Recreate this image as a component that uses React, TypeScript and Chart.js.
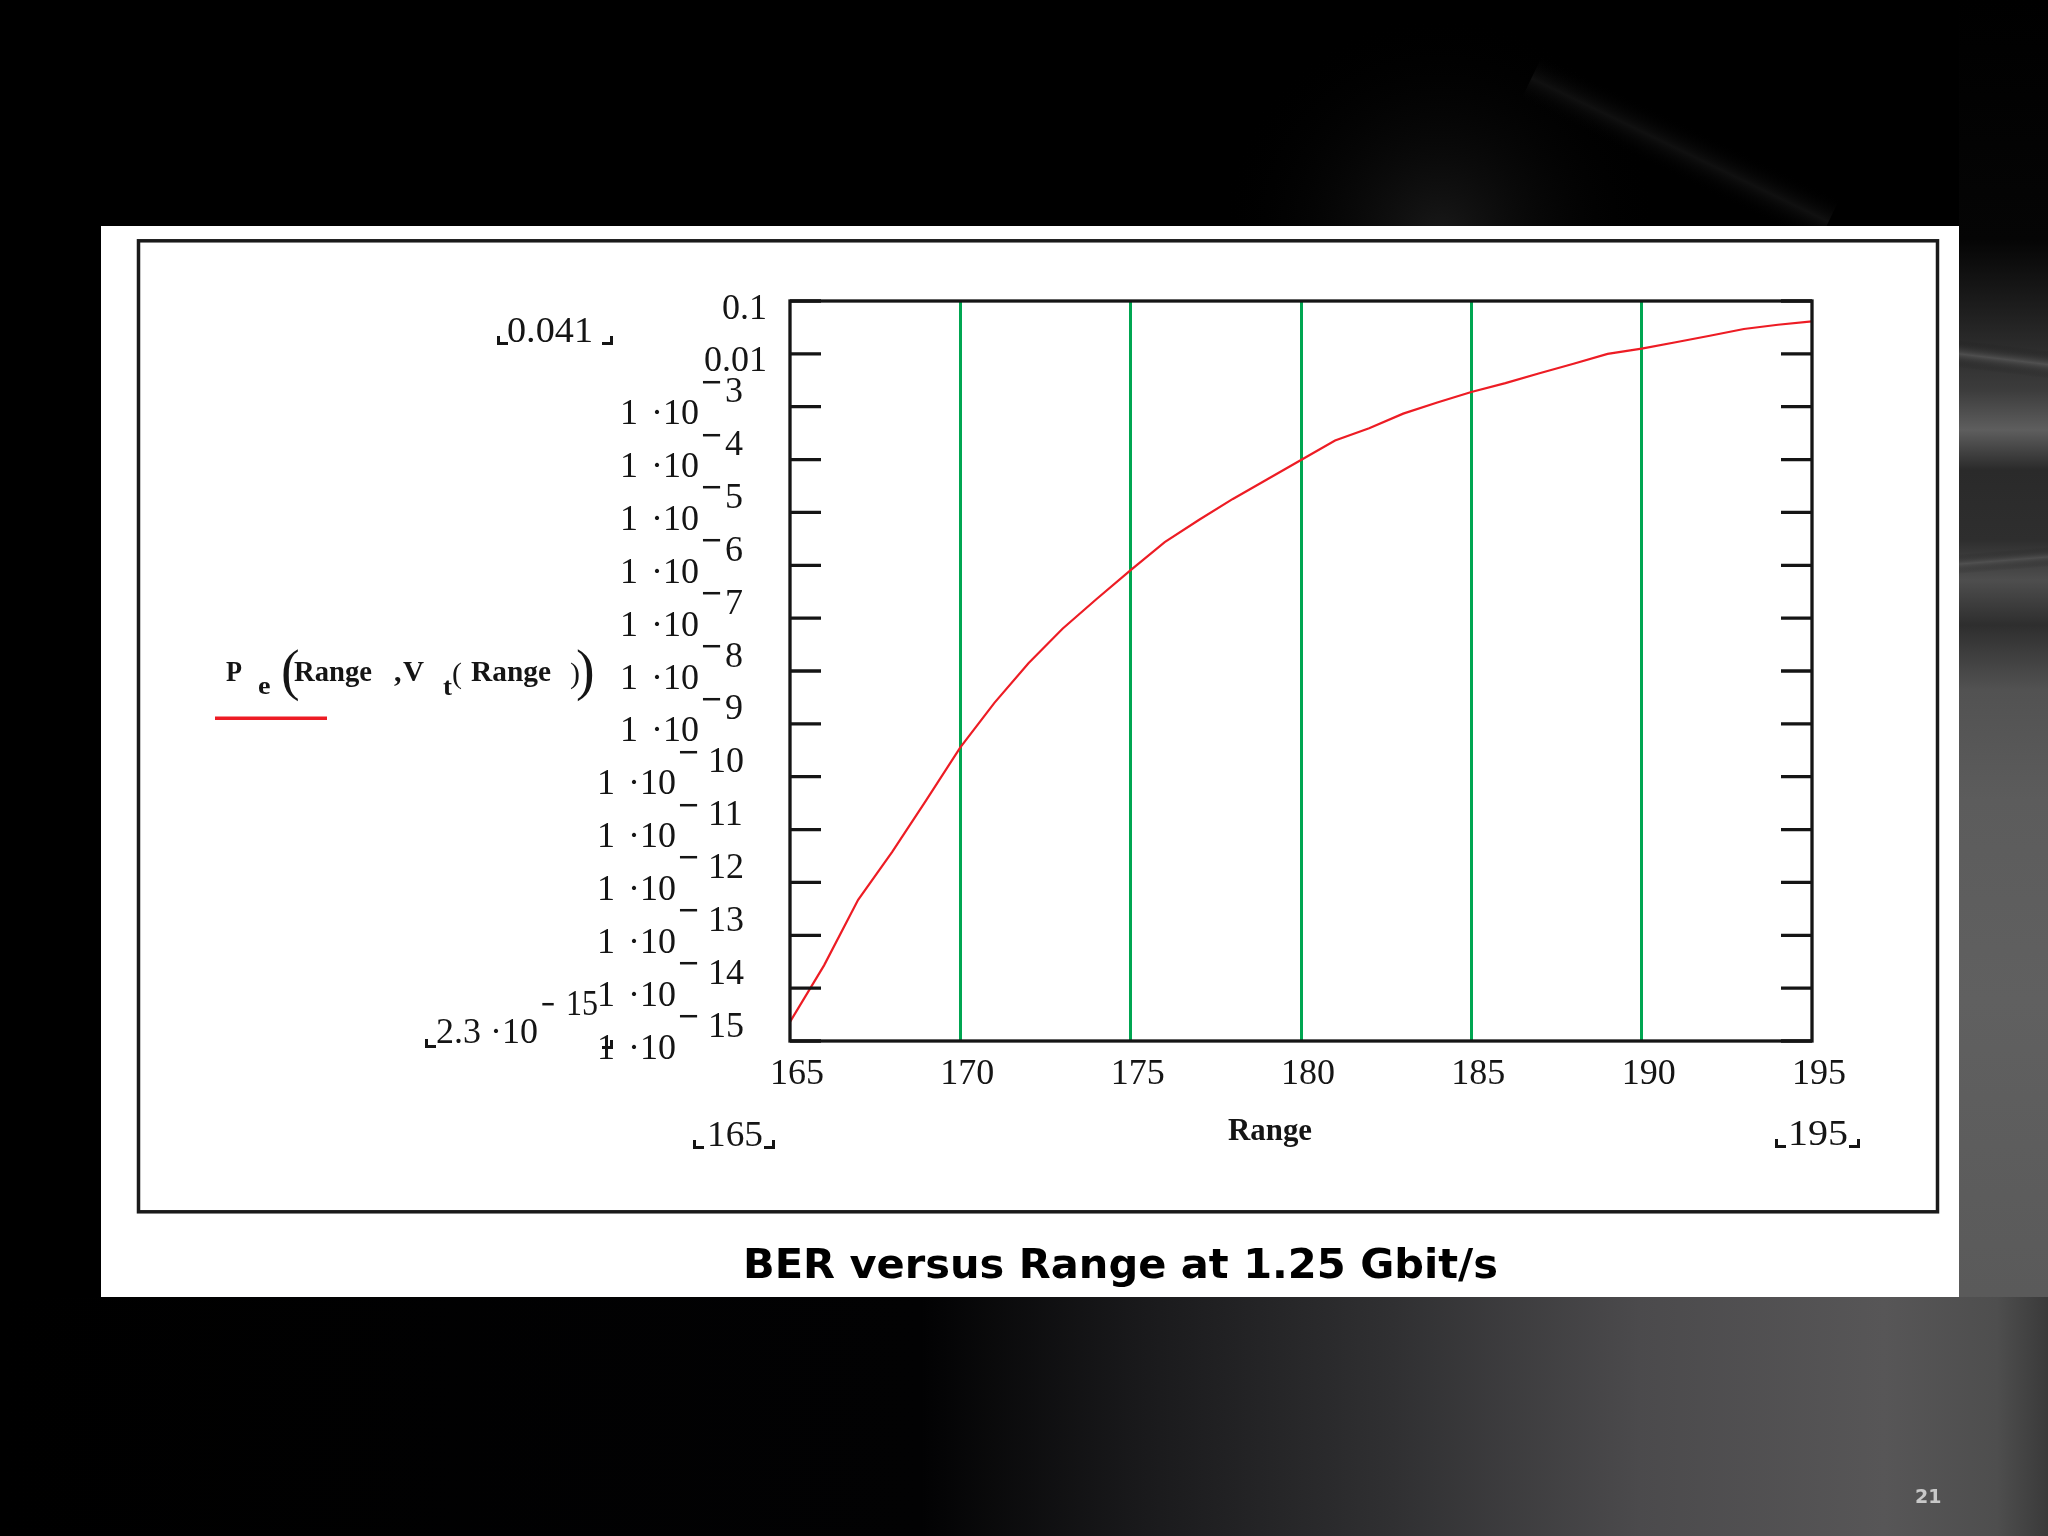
import React, { useEffect, useRef } from "react";
import { Chart, registerables } from "chart.js";

Chart.register(...registerables);

// ---------------- data ----------------
const rangeValues = [
  165, 166, 167, 168, 169, 170, 171, 172, 173, 174, 175, 176, 177, 178, 179, 180,
  181, 182, 183, 184, 185, 186, 187, 188, 189, 190, 191, 192, 193, 194, 195,
];
const berValues = [
  2.3e-15, 2.7e-14, 4.7e-13, 3.8e-12, 3.6e-11, 3.6e-10, 2.5e-9, 1.4e-8, 6.3e-8, 2.3e-7,
  8.1e-7, 2.75e-6, 7.2e-6, 1.8e-5, 4.2e-5, 9.8e-5, 2.3e-4, 3.9e-4, 7.4e-4, 1.2e-3,
  1.9e-3, 2.8e-3, 4.3e-3, 6.5e-3, 1.0e-2, 1.26e-2, 1.66e-2, 2.2e-2, 2.95e-2, 3.55e-2,
  4.1e-2,
];
const xTickValues = [165, 170, 175, 180, 185, 190, 195];
const xTickLabels = ["165", "170", "175", "180", "185", "190", "195"];
const yTickValues = [
  1e-1, 1e-2, 1e-3, 1e-4, 1e-5, 1e-6, 1e-7, 1e-8, 1e-9, 1e-10, 1e-11, 1e-12, 1e-13, 1e-14, 1e-15,
];
const yTickMantissa = ["0.1", "0.01", "1", "1", "1", "1", "1", "1", "1", "1", "1", "1", "1", "1", "1"];
const yTickExponent = ["", "", "3", "4", "5", "6", "7", "8", "9", "10", "11", "12", "13", "14", "15"];
const xAxisTitle = "Range";
const xLimitLow = "165";
const xLimitHigh = "195";
const yLimitHigh = "0.041";
const yLimitLowMantissa = "2.3 ·10";
const yLimitLowExponent = "15";
const chartTitle = "BER versus Range at 1.25 Gbit/s";
const pageNumber = "21";

// ---------------- styles ----------------
const SERIF = '"Liberation Serif", "Times New Roman", serif';
const SANS = '"DejaVu Sans", Verdana, sans-serif';
const GREEN = "rgb(0,166,81)";
const RED = "rgb(237,28,36)";
const INK = "#151515";

function fitText(ctx: CanvasRenderingContext2D, text: string, x: number, y: number, width: number, font: string) {
  ctx.save();
  ctx.font = font;
  ctx.textAlign = "left";
  ctx.textBaseline = "alphabetic";
  const w = ctx.measureText(text).width;
  ctx.translate(x, y);
  ctx.scale(width / w, 1);
  ctx.fillText(text, 0, 0);
  ctx.restore();
}

function cornerL(ctx: CanvasRenderingContext2D, x: number, bottom: number) {
  ctx.fillRect(x, bottom - 9, 3, 9);
  ctx.fillRect(x, bottom - 3, 11, 3);
}
function cornerR(ctx: CanvasRenderingContext2D, right: number, bottom: number) {
  ctx.fillRect(right - 3, bottom - 9, 3, 9);
  ctx.fillRect(right - 11, bottom - 3, 11, 3);
}

function streak(ctx: CanvasRenderingContext2D, cx: number, cy: number, len: number, thick: number, angle: number, color: string) {
  ctx.save();
  ctx.translate(cx, cy);
  ctx.rotate(angle);
  const g = ctx.createLinearGradient(0, -thick, 0, thick);
  g.addColorStop(0, "rgba(0,0,0,0)");
  g.addColorStop(0.5, color);
  g.addColorStop(1, "rgba(0,0,0,0)");
  ctx.fillStyle = g;
  ctx.fillRect(-len / 2, -thick, len, thick * 2);
  ctx.restore();
}

const backgroundPlugin = {
  id: "slideBackground",
  beforeDraw(chart: any) {
    const ctx: CanvasRenderingContext2D = chart.ctx;
    const W = chart.width;
    const H = chart.height;
    ctx.save();
    ctx.fillStyle = "#000";
    ctx.fillRect(0, 0, W, H);

    // faint glow above the panel, right side
    const rg = ctx.createRadialGradient(1440, 235, 10, 1440, 235, 220);
    rg.addColorStop(0, "rgba(30,30,30,0.75)");
    rg.addColorStop(1, "rgba(0,0,0,0)");
    ctx.fillStyle = rg;
    ctx.fillRect(1150, 0, 700, 226);
    streak(ctx, 1680, 150, 330, 26, 0.45, "rgba(20,20,20,0.8)");

    // right strip
    const vg = ctx.createLinearGradient(0, 0, 0, H);
    vg.addColorStop(0, "#000");
    vg.addColorStop(240 / H, "#050505");
    vg.addColorStop(310 / H, "#1e1e1e");
    vg.addColorStop(390 / H, "#3c3c3c");
    vg.addColorStop(430 / H, "#5e5e5e");
    vg.addColorStop(470 / H, "#2a2a2a");
    vg.addColorStop(540 / H, "#2e2e2e");
    vg.addColorStop(580 / H, "#4e4e4e");
    vg.addColorStop(625 / H, "#2e2e2e");
    vg.addColorStop(690 / H, "#525252");
    vg.addColorStop(800 / H, "#5c5c5c");
    vg.addColorStop(1000 / H, "#606060");
    vg.addColorStop(1, "#555");
    ctx.fillStyle = vg;
    ctx.fillRect(1959, 0, W - 1959, H);
    streak(ctx, 2010, 360, 200, 14, 0.12, "rgba(110,110,110,0.5)");
    streak(ctx, 2010, 560, 200, 10, -0.08, "rgba(100,100,100,0.45)");

    // bottom band
    const hg = ctx.createLinearGradient(0, 0, W, 0);
    hg.addColorStop(0, "#000");
    hg.addColorStop(0.45, "#020203");
    hg.addColorStop(0.55, "#18181a");
    hg.addColorStop(0.68, "#303032");
    hg.addColorStop(0.8, "#4b4a4c");
    hg.addColorStop(0.92, "#575657");
    hg.addColorStop(0.975, "#4e4e4e");
    hg.addColorStop(1, "#3a3a3a");
    ctx.fillStyle = hg;
    ctx.fillRect(0, 1297, W, H - 1297);

    // white panel
    ctx.fillStyle = "#ffffff";
    ctx.fillRect(101, 226, 1858, 1071);
    // Mathcad region border
    ctx.strokeStyle = "#1a1a1a";
    ctx.lineWidth = 3.5;
    ctx.strokeRect(138.5, 240.8, 1799, 971);
    ctx.restore();
  },
  afterDatasetsDraw(chart: any) {
    const ctx: CanvasRenderingContext2D = chart.ctx;
    const area = chart.chartArea;
    const yScale = chart.scales.y;
    ctx.save();
    ctx.strokeStyle = INK;
    ctx.lineWidth = 3.3;
    yScale.ticks.forEach((t: any) => {
      const py = yScale.getPixelForValue(t.value);
      ctx.beginPath();
      ctx.moveTo(area.left, py);
      ctx.lineTo(area.left + 31, py);
      ctx.moveTo(area.right - 31, py);
      ctx.lineTo(area.right, py);
      ctx.stroke();
    });
    ctx.strokeRect(area.left, area.top, area.right - area.left, area.bottom - area.top);
    ctx.restore();
  },
  afterDraw(chart: any) {
    const ctx: CanvasRenderingContext2D = chart.ctx;
    const xScale = chart.scales.x;
    const yScale = chart.scales.y;
    ctx.save();
    ctx.fillStyle = INK;
    ctx.textBaseline = "alphabetic";

    // y tick labels
    yTickValues.forEach((v, i) => {
      const py = yScale.getPixelForValue(v);
      const exp = yTickExponent[i];
      if (!exp) {
        ctx.font = `36px ${SERIF}`;
        ctx.textAlign = "right";
        ctx.fillText(yTickMantissa[i], 767, py + 17.5);
        return;
      }
      const two = exp.length > 1;
      const digitsLeft = two ? 708 : 725;
      const minusLeft = two ? 678 : 701;
      ctx.textAlign = "left";
      ctx.font = `36px ${SERIF}`;
      ctx.fillText(exp, digitsLeft, py - 4.5);
      fitText(ctx, "\u2212", minusLeft, py - 13, 21, `bold 36px ${SERIF}`);
      ctx.font = `36px ${SERIF}`;
      ctx.textAlign = "right";
      const midRight = minusLeft - 2;
      ctx.fillText("\u00B710", midRight, py + 17.5);
      const midW = ctx.measureText("\u00B710").width;
      ctx.fillText(yTickMantissa[i], midRight - midW - 13, py + 17.5);
    });

    // x tick labels
    ctx.font = `36px ${SERIF}`;
    ctx.textAlign = "center";
    xTickValues.forEach((v, i) => {
      const px = xScale.getPixelForValue(v);
      ctx.fillText(xTickLabels[i], px + 7, 1084);
    });

    // axis limit markers
    fitText(ctx, yLimitHigh, 507, 341.7, 86, `36px ${SERIF}`);
    cornerL(ctx, 497, 345);
    cornerR(ctx, 613, 345);

    fitText(ctx, yLimitLowMantissa, 436, 1043, 102, `36px ${SERIF}`);
    fitText(ctx, "\u2212", 541, 1015.5, 14, `bold 36px ${SERIF}`);
    fitText(ctx, yLimitLowExponent, 566, 1015, 32, `36px ${SERIF}`);
    cornerL(ctx, 425, 1048);
    cornerR(ctx, 613, 1049);

    fitText(ctx, xLimitLow, 707, 1146, 56, `36px ${SERIF}`);
    cornerL(ctx, 693, 1149);
    cornerR(ctx, 775, 1149);
    fitText(ctx, xLimitHigh, 1788, 1145, 60, `36px ${SERIF}`);
    cornerL(ctx, 1775, 1148);
    cornerR(ctx, 1860, 1148);

    // x axis title
    fitText(ctx, xAxisTitle, 1228, 1140, 84, `bold 31px ${SERIF}`);

    // series label
    const B30 = `bold 30px ${SERIF}`;
    fitText(ctx, "P", 226, 680.7, 16, B30);
    fitText(ctx, "e", 258, 694, 12.5, `bold 26px ${SERIF}`);
    ctx.textAlign = "left";
    ctx.font = `56px ${SERIF}`;
    ctx.fillText("(", 281, 689);
    fitText(ctx, "Range", 294, 680.7, 78, B30);
    ctx.font = B30;
    ctx.fillText(",", 394, 680.7);
    fitText(ctx, "V", 403, 680.7, 21, B30);
    fitText(ctx, "t", 443, 695, 9, `bold 26px ${SERIF}`);
    ctx.font = `30px ${SERIF}`;
    ctx.fillText("(", 452, 683);
    fitText(ctx, "Range", 471, 680.7, 80, B30);
    ctx.font = `30px ${SERIF}`;
    ctx.fillText(")", 570, 683);
    ctx.font = `56px ${SERIF}`;
    ctx.fillText(")", 576, 689);
    ctx.fillStyle = RED;
    ctx.fillRect(215, 716.5, 112, 3.5);

    // caption
    ctx.fillStyle = "#000";
    fitText(ctx, chartTitle, 743, 1278, 755, `bold 41px ${SANS}`);

    // page number
    ctx.fillStyle = "#c8c8c8";
    ctx.font = `bold 19px ${SANS}`;
    ctx.textAlign = "left";
    ctx.fillText(pageNumber, 1915, 1503);
    ctx.restore();
  },
};

export default function App() {
  const canvasRef = useRef<HTMLCanvasElement | null>(null);

  useEffect(() => {
    const canvas = canvasRef.current;
    if (!canvas) return;
    const points = rangeValues.map((r, i) => ({ x: r, y: berValues[i] }));
    const chart = new Chart(canvas, {
      type: "line",
      data: {
        datasets: [
          {
            label: "Pe(Range, Vt(Range))",
            data: points,
            borderColor: RED,
            borderWidth: 2.2,
            pointRadius: 0,
            tension: 0,
            fill: false,
          },
        ],
      },
      options: {
        responsive: false,
        animation: false,
        devicePixelRatio: 1,
        layout: { padding: { left: 790, right: 236, top: 301, bottom: 495 } },
        plugins: {
          legend: { display: false },
          tooltip: { enabled: false },
          title: { display: false },
        },
        scales: {
          x: {
            type: "linear",
            min: 165,
            max: 195,
            afterBuildTicks: (s: any) => {
              s.ticks = xTickValues.map((v) => ({ value: v }));
            },
            ticks: { display: false },
            grid: {
              display: true,
              drawTicks: false,
              lineWidth: 3,
              color: (c: any) =>
                c.tick && c.tick.value > 165 && c.tick.value < 195 ? GREEN : "rgba(0,0,0,0)",
            },
            border: { display: false },
          },
          y: {
            type: "logarithmic",
            min: 1e-15,
            max: 0.1,
            afterBuildTicks: (s: any) => {
              s.ticks = yTickValues.map((v) => ({ value: v }));
            },
            ticks: { display: false },
            grid: { display: false, drawTicks: false },
            border: { display: false },
          },
        },
      } as any,
      plugins: [backgroundPlugin],
    });
    return () => chart.destroy();
  }, []);

  return (
    <canvas
      ref={canvasRef}
      width={2048}
      height={1536}
      style={{ position: "absolute", left: 0, top: 0, display: "block", width: 2048, height: 1536 }}
    />
  );
}
